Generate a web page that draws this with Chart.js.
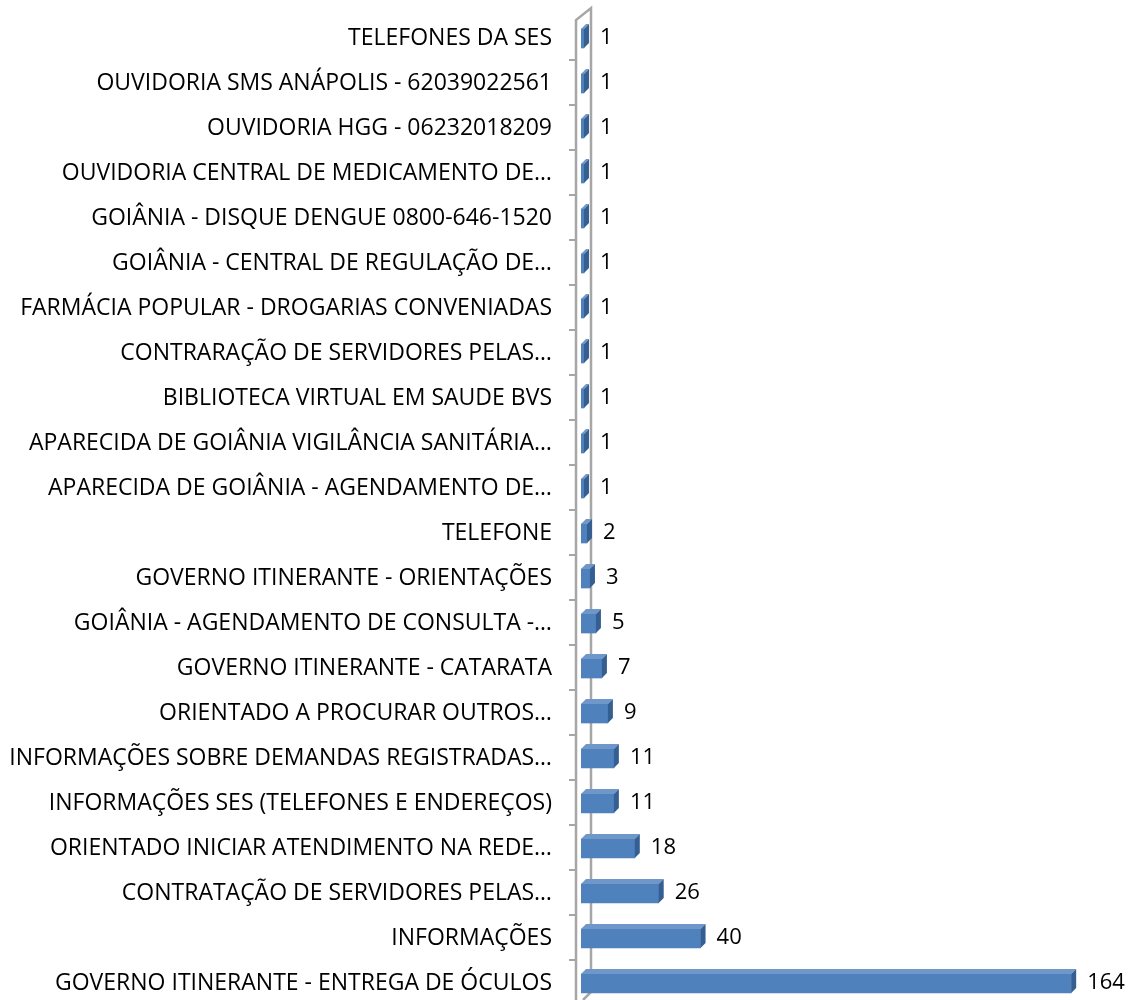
<!DOCTYPE html>
<html>
<head>
<meta charset="utf-8">
<script src="https://cdn.jsdelivr.net/npm/chart.js@4/dist/chart.umd.min.js"></script>
<style>
html,body{margin:0;padding:0;background:#fff;overflow:hidden;}
#wrap{position:relative;width:1138px;height:1000px;overflow:hidden;}
</style>
</head>
<body>
<div id="wrap"><canvas id="c" width="1138" height="1006"></canvas></div>
<script>
const categories = [
  "TELEFONES DA SES",
  "OUVIDORIA SMS ANÁPOLIS - 62039022561",
  "OUVIDORIA HGG - 06232018209",
  "OUVIDORIA CENTRAL DE MEDICAMENTO DE…",
  "GOIÂNIA - DISQUE DENGUE 0800-646-1520",
  "GOIÂNIA - CENTRAL DE REGULAÇÃO DE…",
  "FARMÁCIA POPULAR - DROGARIAS CONVENIADAS",
  "CONTRARAÇÃO DE SERVIDORES PELAS…",
  "BIBLIOTECA VIRTUAL EM SAUDE BVS",
  "APARECIDA DE GOIÂNIA VIGILÂNCIA SANITÁRIA…",
  "APARECIDA DE GOIÂNIA - AGENDAMENTO DE…",
  "TELEFONE",
  "GOVERNO ITINERANTE - ORIENTAÇÕES",
  "GOIÂNIA - AGENDAMENTO DE CONSULTA -…",
  "GOVERNO ITINERANTE - CATARATA",
  "ORIENTADO A PROCURAR OUTROS…",
  "INFORMAÇÕES SOBRE DEMANDAS REGISTRADAS…",
  "INFORMAÇÕES SES (TELEFONES E ENDEREÇOS)",
  "ORIENTADO INICIAR ATENDIMENTO NA REDE…",
  "CONTRATAÇÃO DE SERVIDORES PELAS…",
  "INFORMAÇÕES",
  "GOVERNO ITINERANTE - ENTREGA DE ÓCULOS"
];
const values = [1,1,1,1,1,1,1,1,1,1,1,2,3,5,7,9,11,11,18,26,40,164];
const valueMax = 180;

const FONT = "'Open Sans', sans-serif";
const FONT_SIZE = 23;
const VALUE_FONT_SIZE = 22;
const DEPTH = 5;

const threeD = {
  id: 'threeD',
  beforeDatasetsDraw(chart) {
    const ctx = chart.ctx, a = chart.chartArea, ys = chart.scales.y;
    const fx = a.left - 5, bx = a.left + 10;
    ctx.save();
    ctx.strokeStyle = '#a6a6a6';
    ctx.lineWidth = 2.5;
    ctx.beginPath();
    ctx.moveTo(fx, a.bottom + 4); ctx.lineTo(fx, a.top + 4);
    ctx.lineTo(bx, a.top - 8); ctx.lineTo(bx, a.bottom - 14);
    ctx.lineTo(fx + 7, a.bottom - 6);
    ctx.stroke();
    ctx.lineWidth = 2;
    const n = categories.length;
    const band = (a.bottom - a.top) / n;
    for (let i = 1; i < n; i++) {
      const y = ys.getPixelForValue(i) - band / 2 - 1;
      ctx.beginPath(); ctx.moveTo(fx - 7, y); ctx.lineTo(fx, y); ctx.stroke();
    }
    ctx.restore();
  },
  afterDatasetsDraw(chart) {
    const ctx = chart.ctx;
    const meta = chart.getDatasetMeta(0);
    ctx.save();
    meta.data.forEach((bar, i) => {
      const p = bar.getProps(['x','y','base','height'], true);
      const top = p.y - p.height / 2, bot = p.y + p.height / 2;
      const d = DEPTH;
      ctx.fillStyle = '#6f97c9';
      ctx.beginPath();
      ctx.moveTo(p.base, top); ctx.lineTo(p.x, top);
      ctx.lineTo(p.x + d, top - d); ctx.lineTo(p.base + d, top - d);
      ctx.closePath(); ctx.fill();
      ctx.fillStyle = '#365f91';
      ctx.beginPath();
      ctx.moveTo(p.x, top); ctx.lineTo(p.x + d, top - d);
      ctx.lineTo(p.x + d, bot - d); ctx.lineTo(p.x, bot);
      ctx.closePath(); ctx.fill();
      ctx.fillStyle = '#000';
      ctx.font = VALUE_FONT_SIZE + 'px ' + FONT;
      ctx.textAlign = 'left';
      ctx.textBaseline = 'middle';
      ctx.fillText(String(values[i]), p.x + d + 11, p.y - 1);
    });
    ctx.restore();
  }
};

new Chart(document.getElementById('c'), {
  type: 'bar',
  data: {
    labels: categories,
    datasets: [{
      data: values,
      backgroundColor: '#4f81bd',
      borderWidth: 0,
      barThickness: 19
    }]
  },
  options: {
    indexAxis: 'y',
    responsive: false,
    animation: false,
    layout: { padding: { top: 16, bottom: 0, left: 0, right: 19 } },
    plugins: { legend: { display: false }, tooltip: { enabled: false } },
    scales: {
      x: {
        display: false,
        min: 0,
        max: valueMax
      },
      y: {
        grid: { display: false },
        border: { display: false },
        ticks: {
          color: '#000',
          padding: 21,
          autoSkip: false,
          font: { family: FONT, size: FONT_SIZE }
        },
        afterFit(scale) {
          scale.width = 581;
          scale.paddingTop = 0;
          scale.paddingBottom = 0;
        }
      }
    }
  },
  plugins: [threeD]
});
</script>
</body>
</html>
